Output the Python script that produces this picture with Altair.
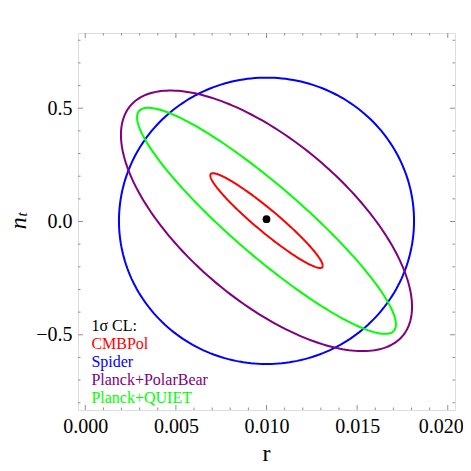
import numpy as np
import pandas as pd
import altair as alt

# ---- data ----
series = ["CMBPol", "Spider", "Planck+PolarBear", "Planck+QUIET"]
colors = ["#ff0000", "#0000ff", "#800080", "#00ff00"]
center_r = [0.0100, 0.0100, 0.0100, 0.0100]
center_nt = [0.004, 0.003, 0.003, 0.003]
sigma_r = [0.00310, 0.00814, 0.00803, 0.00714]
sigma_nt = [0.209, 0.632, 0.575, 0.499]
corr = [-0.952, 0.0, -0.66, -0.915]
draw_order = ["Spider", "Planck+PolarBear", "Planck+QUIET", "CMBPol"]

fiducial_r = [0.010]
fiducial_nt = [0.010]

legend_labels = ["1σ CL:", "CMBPol", "Spider", "Planck+PolarBear", "Planck+QUIET"]
legend_colors = ["#000000", "#ff0000", "#0000ff", "#800080", "#00ff00"]

x_major = [0.0, 0.005, 0.010, 0.015, 0.020]
x_minor = [0.001, 0.002, 0.003, 0.004, 0.006, 0.007, 0.008, 0.009,
           0.011, 0.012, 0.013, 0.014, 0.016, 0.017, 0.018, 0.019]
y_major = [-0.5, 0.0, 0.5]
y_minor = [-0.8, -0.7, -0.6, -0.4, -0.3, -0.2, -0.1,
           0.1, 0.2, 0.3, 0.4, 0.6, 0.7, 0.8]

# ---- build ellipse outlines (1-sigma contours from the parameters) ----
t = np.linspace(0.0, 2.0 * np.pi, 241)
rows = []
for name, cr, cn, sr, sn, rho in zip(series, center_r, center_nt, sigma_r, sigma_nt, corr):
    rr = cr + sr * np.cos(t)
    nn = cn + sn * (rho * np.cos(t) + np.sqrt(1.0 - rho ** 2) * np.sin(t))
    for i, (a, b) in enumerate(zip(rr, nn)):
        rows.append({"series": name, "i": i, "r": a, "nt": b})
ell = pd.DataFrame(rows)
color_of = dict(zip(series, colors))

W, H = 377, 377
FONT = "Liberation Serif"
FRAME = "#909090"
xs = alt.Scale(domain=[-0.0004, 0.0204], nice=False, zero=False)
ys = alt.Scale(domain=[-0.832, 0.832], nice=False, zero=False)

x_axis = alt.Axis(values=x_major, format=".3f", title="", ticks=False, domain=False,
                  grid=False, labelFont=FONT, labelFontSize=20, labelColor="black",
                  labelPadding=22, labelBaseline="alphabetic", labelFlush=False,
                  labelOffset={"condition": {"test": "datum.value > 0.0195", "value": -7},
                               "value": 0})
y_axis = alt.Axis(values=y_major, format=".1f", title="", ticks=False, domain=False,
                  grid=False, labelFont=FONT, labelFontSize=20, labelColor="black",
                  labelPadding=6, labelBaseline="middle", labelFlush=False)


def X(field):
    return alt.X(field, scale=xs, axis=x_axis)


def Y(field):
    return alt.Y(field, scale=ys, axis=y_axis)


layers = []
for name in draw_order:
    d = ell[ell["series"] == name]
    layers.append(
        alt.Chart(d).mark_line(strokeWidth=2, color=color_of[name], clip=True).encode(
            x=X("r:Q"), y=Y("nt:Q"), order="i:Q")
    )

layers.append(
    alt.Chart(pd.DataFrame({"r": fiducial_r, "nt": fiducial_nt})).mark_circle(
        color="black", size=60, opacity=1).encode(x=X("r:Q"), y=Y("nt:Q"))
)


# frame ticks (inward, all four sides)
def xticks(vals, ln):
    d = pd.DataFrame({"r": vals})
    bot = alt.Chart(d).mark_rule(color=FRAME, strokeWidth=1).encode(
        x=X("r:Q"), y=alt.value(H), y2=alt.value(H - ln))
    top = alt.Chart(d).mark_rule(color=FRAME, strokeWidth=1).encode(
        x=X("r:Q"), y=alt.value(0), y2=alt.value(ln))
    return [bot, top]


def yticks(vals, ln):
    d = pd.DataFrame({"nt": vals})
    left = alt.Chart(d).mark_rule(color=FRAME, strokeWidth=1).encode(
        y=Y("nt:Q"), x=alt.value(0), x2=alt.value(ln))
    right = alt.Chart(d).mark_rule(color=FRAME, strokeWidth=1).encode(
        y=Y("nt:Q"), x=alt.value(W), x2=alt.value(W - ln))
    return [left, right]


layers += xticks(x_major, 5) + xticks(x_minor, 2.5) + yticks(y_major, 5) + yticks(y_minor, 2.5)

# legend text
for k, (lab, col) in enumerate(zip(legend_labels, legend_colors)):
    layers.append(
        alt.Chart(pd.DataFrame({"label": [lab]})).mark_text(
            align="left", baseline="alphabetic", font=FONT, fontSize=16, color=col).encode(
            x=alt.value(13.4), y=alt.value(298 + k * 17.9), text="label:N")
    )

# axis titles
layers.append(
    alt.Chart(pd.DataFrame({"label": ["r"]})).mark_text(
        align="center", baseline="alphabetic", font=FONT, fontSize=24, color="black").encode(
        x=alt.value(W / 2), y=alt.value(H + 50.7), text="label:N")
)
layers.append(
    alt.Chart(pd.DataFrame({"label": ["n"]})).mark_text(
        align="center", baseline="alphabetic", font=FONT, fontStyle="italic", fontSize=24,
        angle=270, color="black").encode(
        x=alt.value(-51.8), y=alt.value(190.3), text="label:N")
)
layers.append(
    alt.Chart(pd.DataFrame({"label": ["t"]})).mark_text(
        align="center", baseline="alphabetic", font=FONT, fontStyle="italic", fontSize=15,
        angle=270, color="black").encode(
        x=alt.value(-50.8), y=alt.value(181.5), text="label:N")
)

chart = alt.layer(*layers).properties(
    width=W, height=H,
    autosize=alt.AutoSizeParams(type="none"),
    padding={"left": 70, "top": 25, "right": 8, "bottom": 55},
).configure_view(stroke=FRAME, strokeWidth=1).configure_axis(
    labelFont=FONT, labelFontSize=20, labelColor="black"
).configure(font=FONT)

chart.save("out.html", embed_options={"renderer": "svg", "actions": False})
